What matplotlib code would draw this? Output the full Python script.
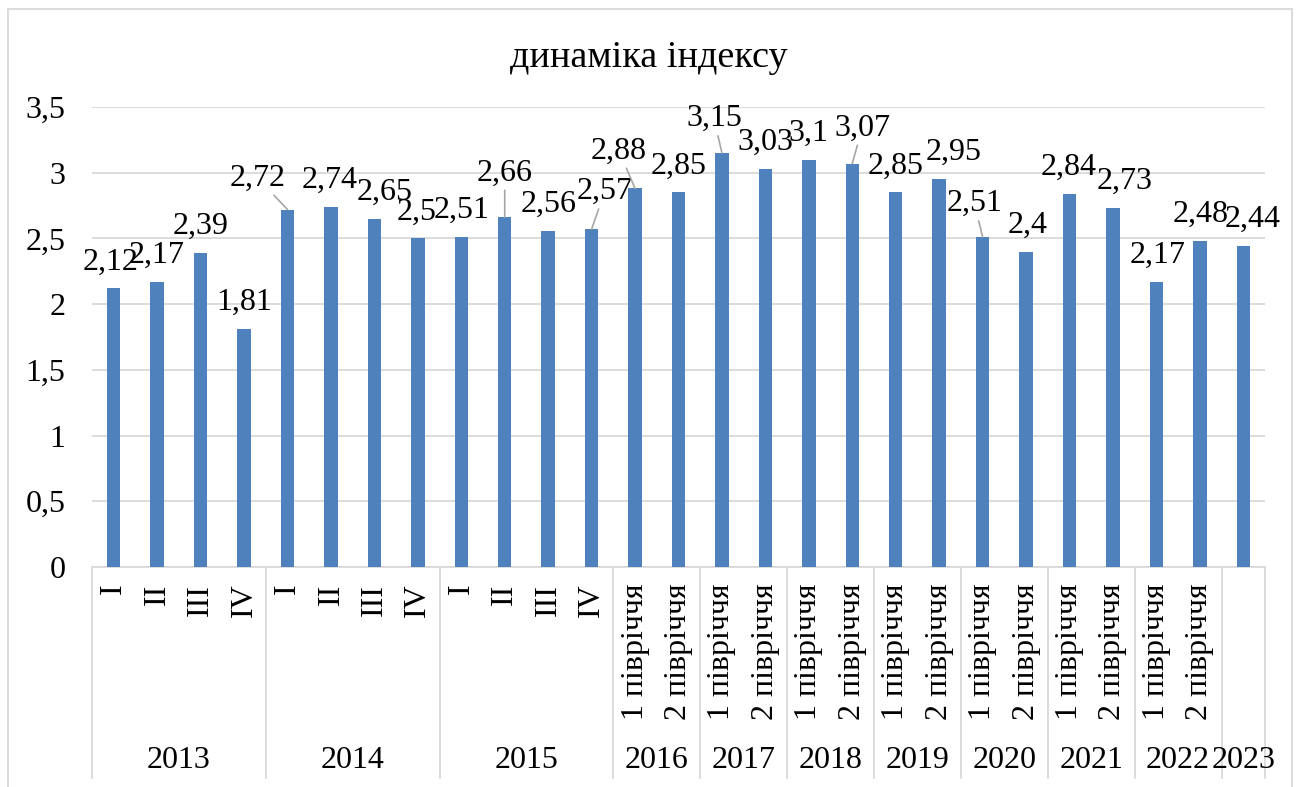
import matplotlib
matplotlib.use('Agg')
import matplotlib.pyplot as plt
from matplotlib.lines import Line2D

plt.rcParams['font.family'] = ['Liberation Serif', 'DejaVu Serif']

title = 'динаміка індексу'
years = ['2013', '2014', '2015', '2016', '2017', '2018', '2019', '2020', '2021', '2022', '2023']
year_sizes = [4, 4, 4, 2, 2, 2, 2, 2, 2, 2, 1]
period_labels = (['I', 'II', 'III', 'IV'] * 3
                 + ['1 півріччя', '2 півріччя'] * 7
                 + [''])
values = [2.12, 2.17, 2.39, 1.81,
          2.72, 2.74, 2.65, 2.5,
          2.51, 2.66, 2.56, 2.57,
          2.88, 2.85, 3.15, 3.03, 3.1, 3.07, 2.85, 2.95,
          2.51, 2.4, 2.84, 2.73, 2.17, 2.48,
          2.44]
value_labels = [f'{v:g}'.replace('.', ',') for v in values]
yticks = [0, 0.5, 1, 1.5, 2, 2.5, 3, 3.5]
ytick_labels = ['0', '0,5', '1', '1,5', '2', '2,5', '3', '3,5']

# label placement tweaks (pixels) and leader-line flags
label_dx = [-3, -1, 0, 0, -30, -1, 10, -1, 0, 0, 0, 13, -16, 0, -8, 0, 0, 10, 0, 14, -8, 2, -1, 12, 1, 1, 9]
label_dy = [0, 0, 0, 0, 5, 0, 0, 0, 0, 18, 0, 11, 11, 0, 8, 0, 0, 9, 0, 0, 7, 0, 0, 0, 0, 0, 0]
leader = [False, False, False, False, True, False, False, False, False, True, False, True, True,
          False, True, False, False, True, False, False, True, False, False, False, False, False, False]

W, H = 1299, 787
FS = 23
GRID = '#D9D9D9'
BAR = '#4F81BD'

fig = plt.figure(figsize=(W / 100, H / 100), dpi=100)
ax = fig.add_axes([92 / W, 220 / H, 1173 / W, 460 / H])

x = list(range(len(values)))
ax.bar(x, values, width=0.31, color=BAR, zorder=3)
ax.set_xlim(-0.5, len(values) - 0.5)
ax.set_ylim(0, 3.5)
ax.set_yticks(yticks)
ax.set_yticklabels(ytick_labels)
ax.yaxis.grid(True, color=GRID, lw=1.3, zorder=0)
ax.set_axisbelow(True)
for s in ['left', 'right', 'top']:
    ax.spines[s].set_visible(False)
ax.spines['bottom'].set_color(GRID)
ax.spines['bottom'].set_linewidth(1.3)
ax.tick_params(axis='y', length=0, pad=19, labelsize=FS)
ax.set_xticks(x)
ax.set_xticklabels(period_labels, rotation=90, fontsize=FS)
ax.tick_params(axis='x', length=0, pad=12)

# group separators and year labels
tr = ax.get_xaxis_transform()
start = -0.5
ax.plot([start, start], [0, -0.4587], transform=tr, clip_on=False, color=GRID, lw=1.3)
for yr, n in zip(years, year_sizes):
    end = start + n
    ax.plot([end, end], [0, -0.4587], transform=tr, clip_on=False, color=GRID, lw=1.3)
    ax.text((start + end) / 2, -0.4217, yr, transform=tr, ha='center', va='center', fontsize=FS)
    start = end

# data labels
for i, (v, lab) in enumerate(zip(values, value_labels)):
    kw = {}
    if leader[i]:
        kw['arrowprops'] = dict(arrowstyle='-', color='#A6A6A6', lw=1.2, shrinkA=0, shrinkB=0)
    ax.annotate(lab, xy=(i, v), xytext=(label_dx[i], 12 + label_dy[i]),
                textcoords='offset pixels', ha='center', va='bottom', fontsize=FS,
                zorder=5, **kw)

fig.text(649 / W, 1 - 67 / H, title, ha='center', va='baseline', fontsize=27.5)

# chart border (bottom edge lies outside the picture)
bx0, bx1, by0 = 7.5 / W, 1291.5 / W, 1 - 8.5 / H
for xs, ys in [([bx0, bx0], [0, by0]), ([bx0, bx1], [by0, by0]), ([bx1, bx1], [by0, 0])]:
    fig.add_artist(Line2D(xs, ys, transform=fig.transFigure, color=GRID, lw=1.3))

fig.savefig('out.png', dpi=100)
